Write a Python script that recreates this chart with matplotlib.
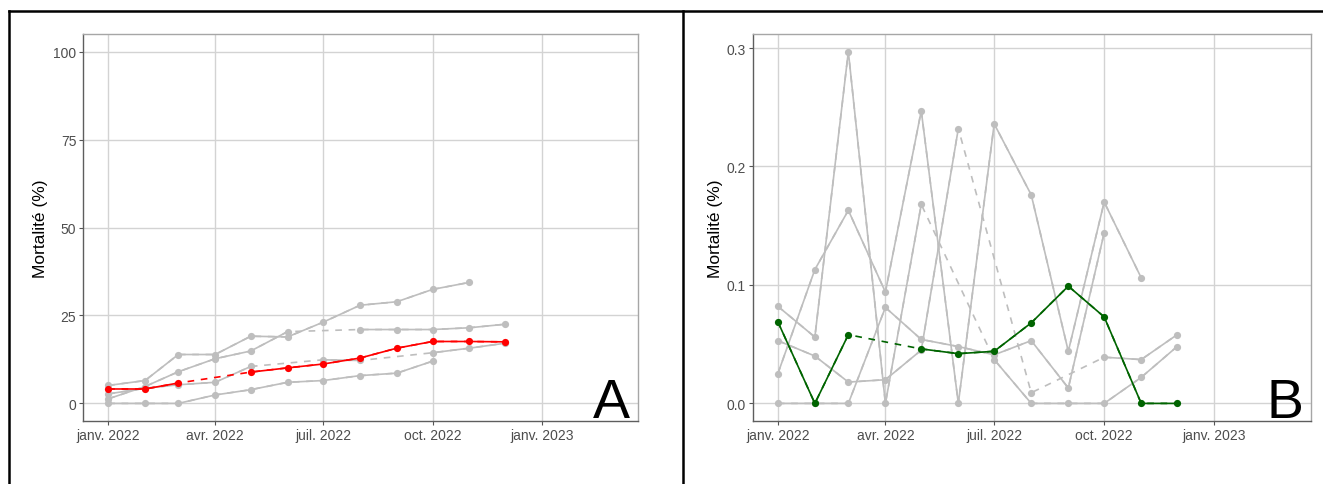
import numpy as np
import pandas as pd
import matplotlib
matplotlib.use("Agg")
import matplotlib.pyplot as plt
from matplotlib.lines import Line2D

plt.rcParams['font.family'] = ['Liberation Sans', 'DejaVu Sans']

nan = np.nan
months = pd.date_range('2022-01-01', periods=12, freq='MS')

# panel A : mortalité cumulée (%)
a_grey1 = [5.1, 6.5, 13.9, 13.9, 19.1, 18.9, 23.1, 27.9, 28.9, 32.4, 34.4, nan]
a_grey2 = [1.3, 4.8, 9.0, 12.7, 14.9, 20.4, nan, 21.0, 21.0, 21.0, 21.5, 22.5]
a_grey3 = [0.0, 0.0, 0.0, 2.4, 3.9, 6.0, 6.5, 7.9, 8.6, 12.0, nan, nan]
a_grey4 = [2.7, 4.3, 5.3, 6.0, 10.5, nan, 12.4, 12.2, nan, 14.4, 15.7, 17.1]
a_red = [4.1, 4.1, 5.8, nan, 8.9, 10.1, 11.2, 12.9, 15.7, 17.6, 17.6, 17.5]
a_range = (0, 100)
a_yticks = [0, 25, 50, 75, 100]

# panel B : mortalité mensuelle (%)
b_grey1 = [0.025, 0.113, 0.163, 0.094, 0.247, 0.0, 0.236, 0.176, 0.044, 0.170, 0.106, nan]
b_grey2 = [0.082, 0.056, 0.297, 0.0, 0.168, nan, 0.037, 0.0, 0.0, 0.0, 0.022, 0.048]
b_grey3 = [0.053, 0.040, 0.018, 0.020, 0.045, 0.232, nan, 0.009, nan, 0.039, 0.037, 0.058]
b_grey4 = [0.0, 0.0, 0.0, 0.081, 0.054, 0.048, 0.041, 0.053, 0.013, 0.144, nan, nan]
b_green = [0.069, 0.0, 0.058, nan, 0.046, 0.042, 0.044, 0.068, 0.099, 0.073, 0.0, 0.0]
b_yticks = [0.0, 0.1, 0.2, 0.3]

xtick_dates = pd.to_datetime(['2022-01-01', '2022-04-01', '2022-07-01', '2022-10-01', '2023-01-01'])
xtick_labels = ['janv. 2022', 'avr. 2022', 'juil. 2022', 'oct. 2022', 'janv. 2023']

W, H = 1323, 485
fig = plt.figure(figsize=(W / 100, H / 100), dpi=100)


def box(l, r, t, b):
    return [l / W, 1 - b / H, (r - l) / W, (b - t) / H]


axA = fig.add_axes(box(83.3, 638, 35, 422))
axB = fig.add_axes(box(752.7, 1311, 35, 422))


def draw_series(ax, y, color, z):
    y = np.asarray(y, float)
    ok = ~np.isnan(y)
    # NA gaps bridged with a dashed line, solid line over real values
    ax.plot(months[ok], y[ok], color=color, lw=1.2, ls=(0, (4, 4)), zorder=z)
    ax.plot(months, y, color=color, lw=1.2, marker='o', ms=5.2, mew=0, zorder=z + 0.5)


def style(ax, yrange, yticks, fmt, letter, label_x):
    lo, hi = yrange
    pad = 0.05 * (hi - lo)
    ax.set_ylim(lo - pad, hi + pad)
    ax.set_xlim(pd.Timestamp('2021-12-11'), pd.Timestamp('2023-03-23'))
    ax.set_xticks(xtick_dates)
    ax.set_xticklabels(xtick_labels)
    ax.set_yticks(yticks)
    ax.set_yticklabels([fmt.format(v) for v in yticks])
    ax.grid(True, color='#D3D3D3', lw=1.0)
    ax.set_axisbelow(True)
    ax.tick_params(length=2.8, width=0.8, color='#555555', labelcolor='#4D4D4D',
                   labelsize=10, pad=2.2)
    for side in ['top', 'right']:
        ax.spines[side].set_color('#A6A6A6')
        ax.spines[side].set_linewidth(1.0)
    for side in ['left', 'bottom']:
        ax.spines[side].set_color('#5E5E5E')
        ax.spines[side].set_linewidth(1.0)
    ax.set_ylabel('Mortalité (%)', fontsize=12.5, color='black')
    ax.yaxis.set_label_coords(label_x, 0.5)
    ax.text(0.986, 0.0103, letter, transform=ax.transAxes, ha='right',
            va='baseline', fontsize=40, color='black')


for s in [a_grey1, a_grey2, a_grey3, a_grey4]:
    draw_series(axA, s, '#BEBEBE', 2)
draw_series(axA, a_red, '#FF0000', 4)
style(axA, a_range, a_yticks, '{:g}', 'A', -0.0645)

for s in [b_grey1, b_grey2, b_grey3, b_grey4]:
    draw_series(axB, s, '#BEBEBE', 2)
draw_series(axB, b_green, '#006400', 4)
b_all = np.concatenate([b_grey1, b_grey2, b_grey3, b_grey4, b_green])
style(axB, (0, np.nanmax(b_all)), b_yticks, '{:.1f}', 'B', -0.054)

# cadre du tableau
ty = 1 - 11.5 / H
fig.add_artist(Line2D([8.5 / W, 1], [ty, ty], transform=fig.transFigure, color='black', lw=1.8))
fig.add_artist(Line2D([8.5 / W, 8.5 / W], [0, ty], transform=fig.transFigure, color='black', lw=1.8))
fig.add_artist(Line2D([682.5 / W, 682.5 / W], [0, ty], transform=fig.transFigure, color='black', lw=1.8))

fig.savefig('out.png', dpi=100)
